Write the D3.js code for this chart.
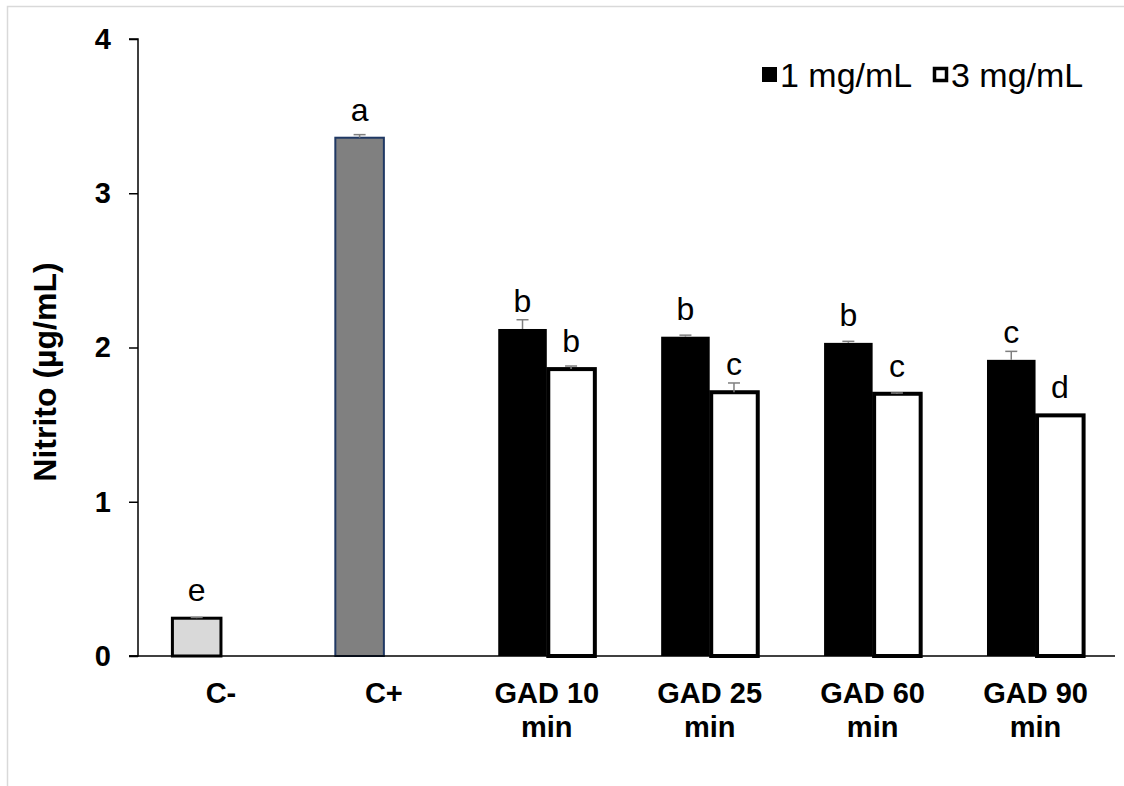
<!DOCTYPE html>
<html><head><meta charset="utf-8">
<script src="https://cdn.jsdelivr.net/npm/d3@7"></script>
<style>body{margin:0;background:#fff}svg{display:block;font-family:"Liberation Sans",Arial,sans-serif}</style>
</head><body>
<svg id="chart" width="1124" height="786"></svg>
<script>
// ---- data ----
const categories = ["C-", "C+", "GAD 10 min", "GAD 25 min", "GAD 60 min", "GAD 90 min"];
const labelLines = [["C-"], ["C+"], ["GAD 10", "min"], ["GAD 25", "min"], ["GAD 60", "min"], ["GAD 90", "min"]];
const seriesNames = ["1 mg/mL", "3 mg/mL"];
const values1 = [0.245, 3.36, 2.12, 2.07, 2.03, 1.92];
const errors1 = [0.005, 0.02, 0.06, 0.01, 0.01, 0.055];
const letters1 = ["e", "a", "b", "b", "b", "c"];
const values2 = [null, null, 1.86, 1.71, 1.70, 1.56];
const errors2 = [null, null, 0.02, 0.06, 0.005, 0.0];
const letters2 = [null, null, "b", "c", "c", "d"];
const yTicks = [0, 1, 2, 3, 4];

// ---- layout ----
const svg = d3.select("#chart");
const axX = 138, pL = 139.5, pR = 1117, pT = 39, pB = 656;
const x = d3.scaleBand().domain(categories).range([pL, pR]).padding(0);
const y = d3.scaleLinear().domain([0, 4]).range([pB, pT]);
const barW = x.bandwidth() * 0.298;

// outer border
svg.append("rect").attr("x", 7.5).attr("y", 6.5).attr("width", 1130).attr("height", 800)
  .attr("fill", "none").attr("stroke", "#d9d9d9").attr("stroke-width", 1.5);

// style by category for series 1
const fill1 = i => i === 0 ? "#d9d9d9" : i === 1 ? "#808080" : "#000";
const stroke1 = i => i === 0 ? "#000" : i === 1 ? "#1f3864" : "#000";
const sw1 = i => i === 0 ? 3 : i === 1 ? 2 : 0;

const c1 = categories.map((c, i) => ({c, i, v: values1[i], e: errors1[i], l: letters1[i]}));
const c2 = categories.map((c, i) => ({c, i, v: values2[i], e: errors2[i], l: letters2[i]})).filter(d => d.v != null);

const cx = c => x(c) + x.bandwidth() / 2;

// series 1 bars
svg.append("g").selectAll("rect").data(c1).join("rect")
  .attr("x", d => cx(d.c) - barW).attr("y", d => y(d.v))
  .attr("width", barW).attr("height", d => y(0) - y(d.v))
  .attr("fill", d => fill1(d.i)).attr("stroke", d => stroke1(d.i))
  .attr("stroke-width", d => sw1(d.i));

// series 2 bars
svg.append("g").selectAll("rect").data(c2).join("rect")
  .attr("x", d => cx(d.c) + 1.5).attr("y", d => y(d.v))
  .attr("width", barW - 2).attr("height", d => y(0) - y(d.v))
  .attr("fill", "#fff").attr("stroke", "#000").attr("stroke-width", 4);

// error bars
function errBars(data, off) {
  const g = svg.append("g").attr("stroke", "#7f7f7f").attr("stroke-width", 1.5);
  data.filter(d => d.e > 0).forEach(d => {
    const xm = cx(d.c) + off;
    g.append("line").attr("x1", xm).attr("x2", xm).attr("y1", y(d.v)).attr("y2", y(d.v + d.e));
    g.append("line").attr("x1", xm - 6).attr("x2", xm + 6).attr("y1", y(d.v + d.e)).attr("y2", y(d.v + d.e));
  });
}
errBars(c1, -barW / 2);
errBars(c2, barW / 2);

// letters
function letters(data, off) {
  svg.append("g").selectAll("text").data(data).join("text")
    .attr("x", d => cx(d.c) + off).attr("y", d => y(d.v) - 17)
    .attr("text-anchor", "middle").attr("font-size", 32).attr("fill", "#000")
    .text(d => d.l);
}
letters(c1, -barW / 2);
letters(c2, barW / 2);

// x axis line
svg.append("line").attr("x1", axX - 9).attr("x2", 1115).attr("y1", pB).attr("y2", pB)
  .attr("stroke", "#000").attr("stroke-width", 1.5);

// y axis
const yAxis = svg.append("g").attr("transform", `translate(${axX},0)`)
  .call(d3.axisLeft(y).tickValues(yTicks).tickFormat(d3.format("d")).tickSize(9).tickPadding(18));
yAxis.select(".domain").attr("stroke", "#000").attr("stroke-width", 1.5).attr("d", `M-9,${pT}H0V${pB}H-9`);
yAxis.selectAll(".tick line").attr("stroke", "#000").attr("stroke-width", 1.5);
yAxis.selectAll(".tick text").attr("font-size", 29).attr("font-weight", "bold").attr("fill", "#000")
  .attr("font-family", "'Liberation Sans', Arial, sans-serif");

// category labels
const lab = svg.append("g").selectAll("text").data(categories).join("text")
  .attr("x", c => cx(c)).attr("y", 703).attr("text-anchor", "middle")
  .attr("font-size", 29).attr("font-weight", "bold").attr("fill", "#000");
lab.each(function(c, i) {
  const t = d3.select(this);
  labelLines[i].forEach((s, k) => t.append("tspan").attr("x", cx(c)).attr("dy", k === 0 ? 0 : 34).text(s));
});

// y title
svg.append("text").attr("transform", `translate(56,372) rotate(-90)`)
  .attr("text-anchor", "middle").attr("font-size", 32).attr("font-weight", "bold").attr("fill", "#000")
  .text("Nitrito (µg/mL)");

// legend
const leg = svg.append("g");
leg.append("rect").attr("x", 762).attr("y", 67).attr("width", 15).attr("height", 15).attr("fill", "#000");
leg.append("text").attr("x", 780).attr("y", 87).attr("font-size", 34).attr("fill", "#000").text(seriesNames[0]);
leg.append("rect").attr("x", 934.5).attr("y", 68.5).attr("width", 12).attr("height", 12)
  .attr("fill", "#fff").attr("stroke", "#000").attr("stroke-width", 3.5);
leg.append("text").attr("x", 951).attr("y", 87).attr("font-size", 34).attr("fill", "#000").text(seriesNames[1]);
</script>
</body></html>
